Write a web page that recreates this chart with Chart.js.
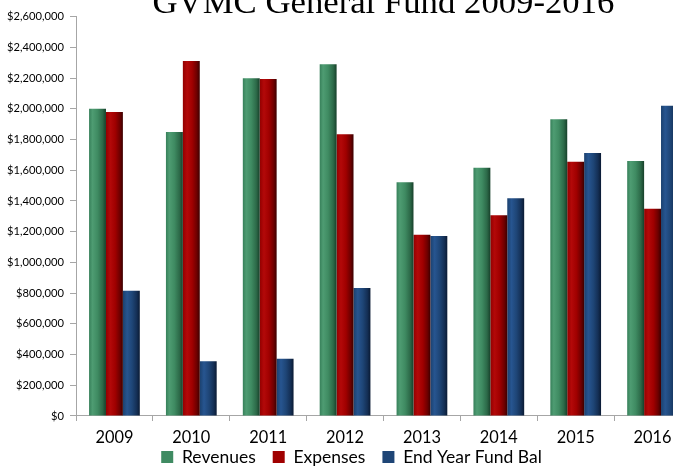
<!DOCTYPE html>
<html>
<head>
<meta charset="utf-8">
<script src="https://cdn.jsdelivr.net/npm/chart.js@4.4.1/dist/chart.umd.min.js"></script>
<style>
html,body{margin:0;padding:0;background:#fff;overflow:hidden;width:673px;height:466px;}
#wrap{position:absolute;left:0;top:0;}
</style>
</head>
<body>
<div id="wrap"><canvas id="c"></canvas></div>
<script>
// ---- data ----
const categories = ['2009', '2010', '2011', '2012', '2013', '2014', '2015', '2016'];
const revenues   = [2000000, 1850000, 2200000, 2290000, 1522000, 1617000, 1933000, 1661000];
const expenses   = [1980000, 2312000, 2195000, 1835000, 1180000, 1307000, 1655000, 1350000];
const fundBal    = [815000, 356000, 372000, 833000, 1172000, 1418000, 1712000, 2020000];
const seriesLabels = ['Revenues', 'Expenses', 'End Year Fund Bal'];
const yMin = 0, yMax = 2600000, yStep = 200000;
const titleText = 'GVMC General Fund 2009-2016';

// ---- styles ----
const W = 704, H = 500;
const CAT_PCT = 0.66;
const palettes = [
  [[0,'#37805a'],[0.2,'#4e9c72'],[0.5,'#3f8b62'],[0.8,'#2c6948'],[1,'#17402a']],
  [[0,'#930000'],[0.25,'#b30909'],[0.55,'#a00000'],[0.82,'#6e0000'],[1,'#3c0000']],
  [[0,'#1b416f'],[0.25,'#275590'],[0.55,'#1e4576'],[0.82,'#142f55'],[1,'#0a1a33']]
];
const legendColors = ['#3f8b62', '#a00000', '#1e4576'];

function fitSize(text, family, target) {
  const c = document.createElement('canvas').getContext('2d');
  c.font = '100px "' + family + '"';
  return 100 * target / c.measureText(text).width;
}
const SANS = 'Lato', SERIF = 'Liberation Serif';
const titleSize = fitSize(titleText, SERIF, 462);
const xSize = fitSize('2009', SANS, 38);
const ySize = fitSize('$2,600,000', SANS, 57);
const legSize = fitSize('End Year Fund Bal', SANS, 138.7);

// vertical layout targets (page pixels)
const plotTop = 16.7, plotBottom = 409, titleBaseline = 16;
const titlePadTop = titleBaseline - 0.3375 * titleSize - 0.6 * titleSize;
const titlePadBottom = plotTop - (1.2 * titleSize + titlePadTop);
const legPad = 17;
const legendMid = 457;
const legendTargetTop = legendMid - legPad - legSize / 2;
const legendShiftX = 6;
const xAxisH = 40;
const legendH = legSize + 2 * legPad;
const padBottom = H - (plotBottom + xAxisH + legendH);
const xTickLen = 5;
const xLabelPad = 431 - plotBottom - xTickLen - 0.6 * xSize;

function barFill(dsIndex) {
  return (c) => {
    const chart = c.chart;
    const xs = chart.scales && chart.scales.x;
    const pal = palettes[dsIndex];
    if (!xs || !chart.chartArea || xs.width <= 0) return pal[2][1];
    const n = categories.length;
    const catW = xs.width / n;
    const groupW = catW * CAT_PCT;
    const barW = groupW / 3;
    const center = xs.getPixelForValue(c.dataIndex);
    const left = center - groupW / 2 + dsIndex * barW;
    const g = chart.ctx.createLinearGradient(left, 0, left + barW, 0);
    pal.forEach(([o, col]) => g.addColorStop(o, col));
    return g;
  };
}

const moveLegend = {
  id: 'moveLegend',
  afterLayout(chart) {
    const lg = chart.legend;
    if (!lg) return;
    const h = lg.bottom - lg.top;
    lg.top = legendTargetTop;
    lg.bottom = legendTargetTop + h;
    lg.left += legendShiftX;
    lg.right += legendShiftX;
  }
};

const canvas = document.getElementById('c');
canvas.width = W; canvas.height = H;
canvas.style.width = W + 'px'; canvas.style.height = H + 'px';

const seriesData = [revenues, expenses, fundBal];

new Chart(canvas, {
  type: 'bar',
  data: {
    labels: categories,
    datasets: seriesData.map((d, i) => ({
      label: seriesLabels[i],
      data: d,
      backgroundColor: barFill(i),
      borderWidth: 0,
      categoryPercentage: CAT_PCT,
      barPercentage: 1.0
    }))
  },
  plugins: [moveLegend],
  options: {
    responsive: false,
    animation: false,
    events: [],
    layout: { padding: { left: 0, right: 13, top: 0, bottom: padBottom } },
    plugins: {
      title: {
        display: true,
        text: titleText,
        fullSize: false,
        color: '#000',
        font: { family: SERIF, size: titleSize, weight: 'normal', lineHeight: 1.2 },
        padding: { top: titlePadTop, bottom: titlePadBottom }
      },
      legend: {
        position: 'bottom',
        labels: {
          boxWidth: 12, boxHeight: 12,
          padding: legPad,
          color: '#000',
          font: { family: SANS, size: legSize },
          generateLabels: (chart) => chart.data.datasets.map((ds, i) => ({
            text: ds.label, fillStyle: legendColors[i], strokeStyle: legendColors[i],
            lineWidth: 0, hidden: false, datasetIndex: i
          }))
        }
      },
      tooltip: { enabled: false }
    },
    scales: {
      x: {
        offset: true,
        grid: { display: true, drawOnChartArea: false, drawTicks: true, tickLength: xTickLen, color: '#a6a6a6', offset: true },
        border: { display: true, color: '#a6a6a6', width: 1 },
        ticks: { color: '#000', font: { family: SANS, size: xSize }, padding: xLabelPad, maxRotation: 0 },
        afterFit: (s) => { s.height = xAxisH; }
      },
      y: {
        min: yMin, max: yMax,
        grid: { display: true, drawOnChartArea: false, drawTicks: true, tickLength: 6, color: '#a6a6a6' },
        border: { display: true, color: '#a6a6a6', width: 1 },
        ticks: {
          stepSize: yStep, color: '#000', padding: 6,
          font: { family: SANS, size: ySize },
          callback: (v) => '$' + Number(v).toLocaleString('en-US')
        },
        afterFit: (s) => { s.width = 76; }
      }
    }
  }
});
</script>
</body>
</html>
